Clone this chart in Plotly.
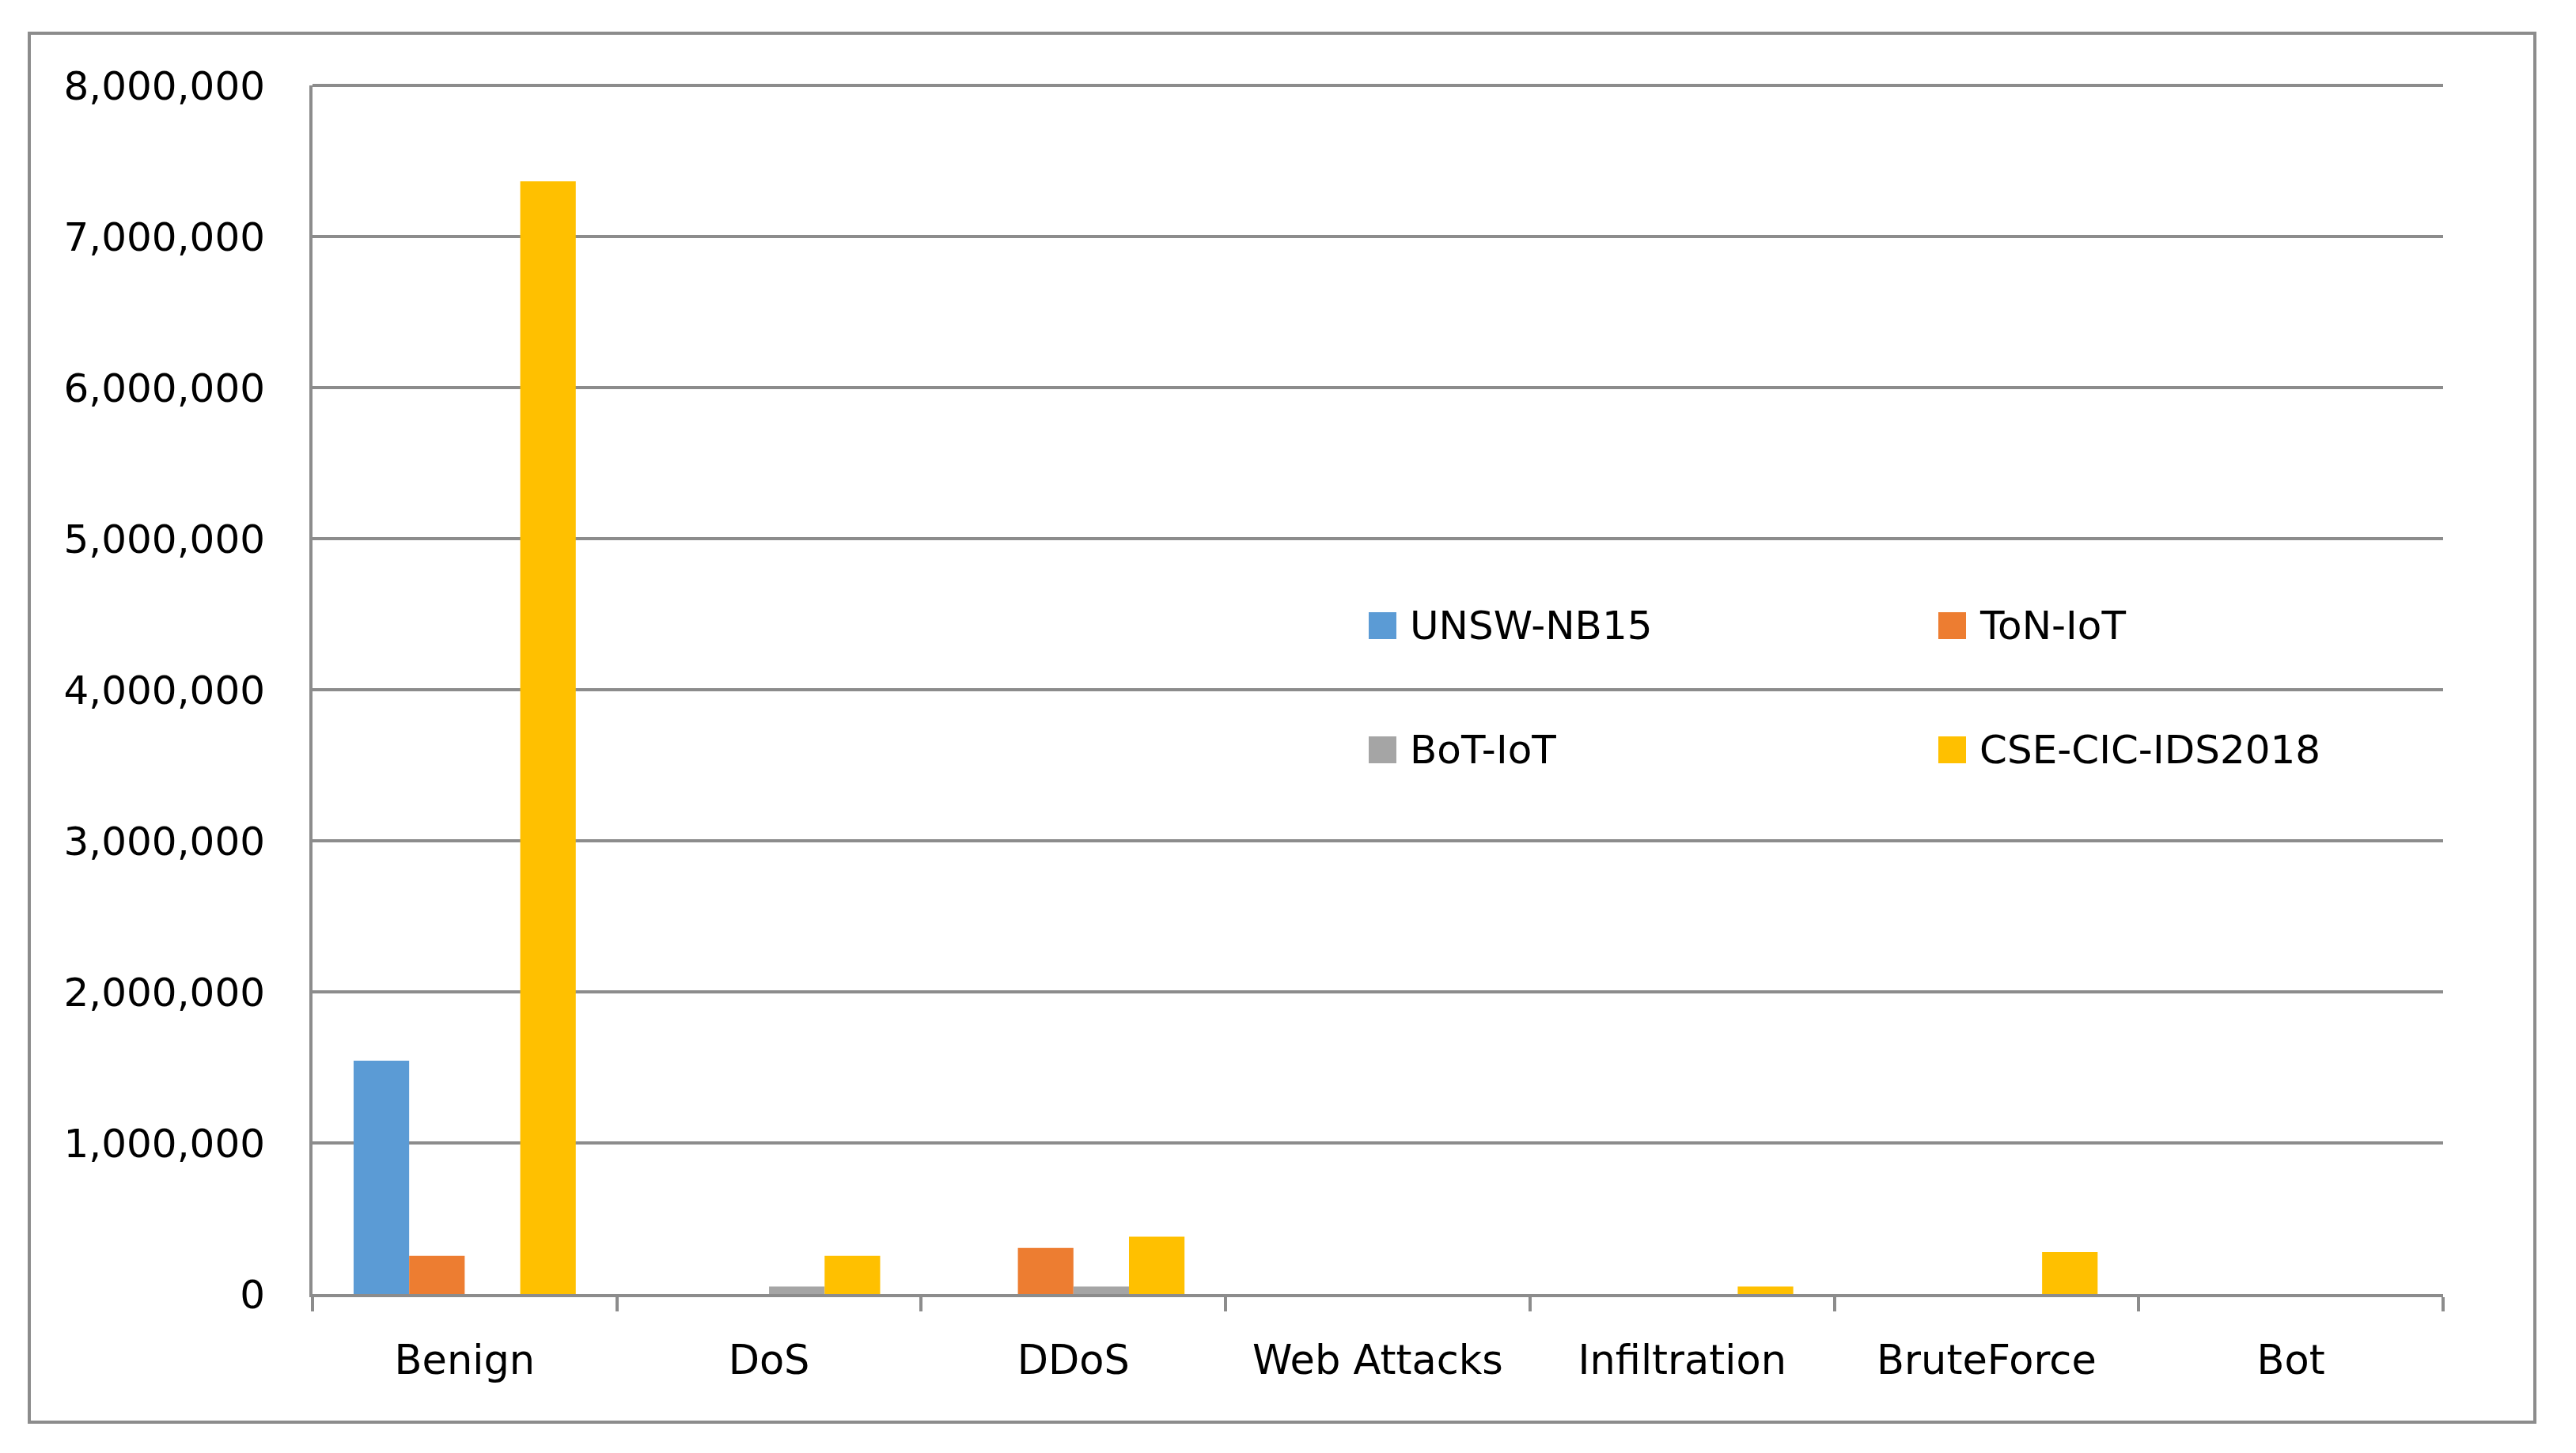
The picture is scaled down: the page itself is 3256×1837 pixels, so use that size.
import plotly.graph_objects as go

# attack classes on the x axis
categories = ["Benign", "DoS", "DDoS", "Web Attacks", "Infiltration", "BruteForce", "Bot"]

# flow counts per dataset
unsw_nb15 = [1545000, 0, 0, 0, 0, 0, 0]
ton_iot = [252000, 0, 305000, 0, 0, 0, 0]
bot_iot = [0, 50000, 50000, 0, 0, 0, 0]
cse_cic_ids2018 = [7365000, 252000, 380000, 0, 50000, 277000, 0]

series_names = ["UNSW-NB15", "ToN-IoT", "BoT-IoT", "CSE-CIC-IDS2018"]
series_values = [unsw_nb15, ton_iot, bot_iot, cse_cic_ids2018]
colors = ["#5B9BD5", "#ED7D31", "#A5A5A5", "#FFC000"]

y_ticks = list(range(0, 8000001, 1000000))

# the page body adds an 8px margin, so the figure is drawn 8px smaller
OFF = 8
W, H = 3256 - OFF, 1837 - OFF
L, R, T, B = 395 - OFF, 168, 108 - OFF, 201
GRAY = "#8c8c8c"
FONT = "DejaVu Sans"


def px_x(x):
    # reference pixel column -> paper x
    return (x - OFF - L) / (W - L - R)


def px_y(y):
    # reference pixel row -> paper y
    return (H - B - (y - OFF)) / (H - T - B)


fig = go.Figure()
for name, vals, col in zip(series_names, series_values, colors):
    fig.add_trace(go.Bar(x=categories, y=vals, name=name, marker_color=col,
                         marker_line_width=0, showlegend=False))

shapes = []
annotations = []

# outer frame
shapes.append(dict(type="rect", xref="paper", yref="paper",
                   x0=px_x(37), x1=px_x(3204), y0=px_y(1798), y1=px_y(42),
                   line=dict(color=GRAY, width=4), layer="above"))

# top gridline (plotly drops the one sitting on the range edge); paper ref so it isn't clipped
shapes.append(dict(type="line", xref="paper", yref="paper", x0=0, x1=1,
                   y0=1, y1=1, line=dict(color=GRAY, width=4), layer="below"))

# legend drawn by hand, 2 x 2 grid
legend_cols = [1730, 2450]
legend_rows = [791, 948]
for i, (name, col) in enumerate(zip(series_names, colors)):
    cx = legend_cols[i % 2]
    cy = legend_rows[i // 2]
    shapes.append(dict(type="rect", xref="paper", yref="paper",
                       x0=px_x(cx), x1=px_x(cx + 35),
                       y0=px_y(cy + 17), y1=px_y(cy - 17),
                       fillcolor=col, line=dict(width=0), layer="above"))
    annotations.append(dict(text=name, xref="paper", yref="paper",
                            x=px_x(cx + 50), y=px_y(cy), xanchor="left", yanchor="middle",
                            showarrow=False, font=dict(family=FONT, size=50, color="#000000")))

fig.update_layout(
    width=W, height=H,
    margin=dict(l=L, r=R, t=T, b=B),
    paper_bgcolor="white", plot_bgcolor="white",
    barmode="group", bargap=0.27, bargroupgap=0,
    font=dict(family=FONT, size=50, color="#000000"),
    shapes=shapes, annotations=annotations,
    xaxis=dict(showline=True, linecolor=GRAY, linewidth=4,
               ticks="outside", tickson="boundaries", ticklen=18, tickwidth=4, tickcolor=GRAY,
               showgrid=False, ticklabelstandoff=36,
               tickfont=dict(family=FONT, size=51, color="#000000")),
    yaxis=dict(range=[0, 8000000], tickvals=y_ticks, tickformat=",d",
               showline=True, linecolor=GRAY, linewidth=4,
               showgrid=True, gridcolor=GRAY, gridwidth=4, zeroline=False,
               ticks="", ticklabelstandoff=46,
               tickfont=dict(family=FONT, size=50, color="#000000")),
)

fig.write_html("out.html")
